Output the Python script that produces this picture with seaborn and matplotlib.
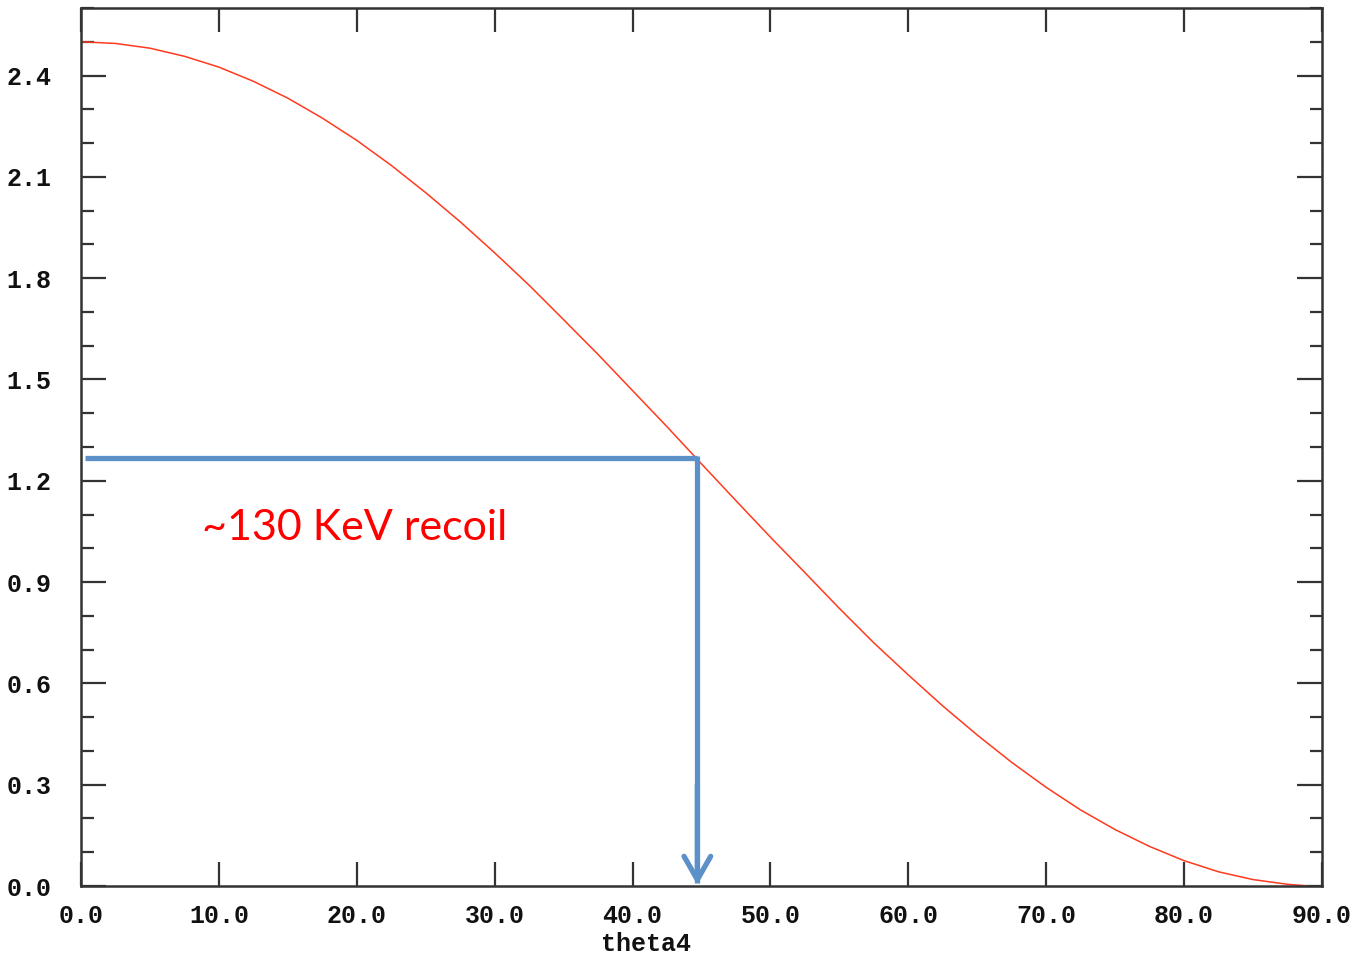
import matplotlib
matplotlib.use("Agg")
import matplotlib.pyplot as plt
import seaborn as sns
import pandas as pd
from matplotlib.ticker import MultipleLocator

# Data
theta4 = [0, 2.5, 5, 7.5, 10, 12.5, 15, 17.5, 20, 22.5, 25, 27.5, 30, 32.5, 35, 37.5,
          40, 42.5, 45, 47.5, 50, 52.5, 55, 57.5, 60, 62.5, 65, 67.5, 70, 72.5, 75,
          77.5, 80, 82.5, 85, 87.5, 89]
energy = [2.50, 2.495, 2.481, 2.457, 2.425, 2.383, 2.333, 2.274, 2.208, 2.134, 2.053,
          1.967, 1.875, 1.779, 1.677, 1.574, 1.467, 1.36, 1.25, 1.141, 1.033, 0.928,
          0.822, 0.72, 0.625, 0.533, 0.447, 0.366, 0.292, 0.225, 0.167, 0.117, 0.075,
          0.042, 0.019, 0.005, 0.0]
x_ticks = [0, 10, 20, 30, 40, 50, 60, 70, 80, 90]
y_ticks = [0.0, 0.3, 0.6, 0.9, 1.2, 1.5, 1.8, 2.1, 2.4]
guide_x = [0.3, 44.7]
guide_y = 1.267
annotation = "~130 KeV recoil"
x_label = "theta4"

sns.set_theme(style="white")
plt.rcParams['font.family'] = ['Liberation Mono', 'DejaVu Sans Mono']

fig = plt.figure(figsize=(13.68, 9.55), dpi=100)
ax = fig.add_axes([81/1368, 1-886/955, (1322-81)/1368, (886-8)/955])

df = pd.DataFrame({"theta4": theta4, "E": energy})
sns.lineplot(data=df, x="theta4", y="E", ax=ax, color="#FF3A1E", linewidth=1.1)

ax.set_xlim(0, 90)
ax.set_ylim(0, 2.6)
ax.set_xticks(x_ticks)
ax.set_xticklabels([f"{v:.1f}" for v in x_ticks])
ax.set_yticks(y_ticks)
ax.set_yticklabels([f"{v:.1f}" for v in y_ticks])
ax.yaxis.set_minor_locator(MultipleLocator(0.1))

for s in ax.spines.values():
    s.set_color("#333333")
    s.set_linewidth(1.8)

ax.tick_params(axis="x", which="major", direction="in", length=17, width=1.6,
               color="#333333", top=True, bottom=True, pad=13,
               labelsize=18, labelcolor="#111111")
ax.tick_params(axis="y", which="major", direction="in", length=18, width=1.6,
               color="#333333", left=True, right=True, pad=21,
               labelsize=18, labelcolor="#111111")
ax.tick_params(axis="y", which="minor", direction="in", length=9, width=1.6,
               color="#333333", left=True, right=True)
for lab in ax.get_xticklabels() + ax.get_yticklabels():
    lab.set_fontweight("bold")

ax.set_xlabel(x_label, fontsize=18, fontweight="bold", color="#111111", labelpad=0)
ax.xaxis.set_label_coords((646 - 81) / (1322 - 81), -0.052)
ax.set_ylabel("")

blue = "#5B90C9"
ax.plot(guide_x, [guide_y, guide_y], color=blue, linewidth=3.8, solid_capstyle="butt")
ax.plot([guide_x[1], guide_x[1]], [guide_y + 0.006, 0.01], color=blue, linewidth=3.8,
        solid_capstyle="butt")
ax.annotate("", xy=(guide_x[1], 0.003), xytext=(guide_x[1], 0.3),
            arrowprops=dict(arrowstyle="->,head_length=1.4,head_width=0.8", color=blue,
                            lw=3.8, shrinkA=0, shrinkB=0))

ax.text(8.8, 1.06, annotation, color="#FF0000", fontsize=31,
        family=["Lato", "DejaVu Sans"], ha="left", va="center")

fig.savefig("out.png", dpi=100)
